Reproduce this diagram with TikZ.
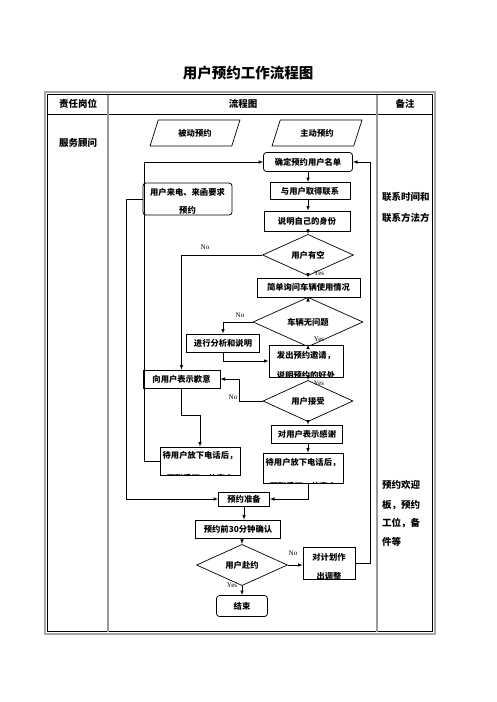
\documentclass[tikz,border=0pt]{standalone}
\usepackage{fontspec}
\newfontfamily\cjk{Noto Sans CJK SC}
\newfontfamily\latn{Liberation Serif}
\usetikzlibrary{shapes,arrows,calc}

\begin{document}
\begin{tikzpicture}[x=1pt,y=-1pt,>=latex,
  txt/.style={font=\cjk\bfseries\fontsize{8.3}{9}\selectfont,inner sep=0pt},
  box/.style={draw,fill=white,line width=.8pt,inner sep=0pt,txt},
  rbox/.style={box,rounded corners=3pt},
  dia/.style={diamond,draw,fill=white,line width=.7pt,inner sep=0pt,txt},
  io/.style={trapezium,trapezium left angle=65,trapezium right angle=115,
    trapezium stretches=true,draw,line width=.7pt,inner sep=0pt,txt},
  yn/.style={font=\latn\fontsize{7}{7}\selectfont,inner sep=0pt},
  flow/.style={->,line width=.6pt},
  head/.style={font=\cjk\bfseries\fontsize{9.5}{10}\selectfont,inner sep=0pt},
  note/.style={head,anchor=west}]
\useasboundingbox (0,0) rectangle (496,702);

% title and table
\node[font=\cjk\bfseries\fontsize{14.5}{15}\selectfont] (title) at (248,73) {用户预约工作流程图};
\draw[line width=1.8pt,gray!70] (45,92) rectangle (435,634);
\draw[line width=.6pt] (47.5,94.5) rectangle (432.5,631.5);
\draw[line width=.8pt] (47.5,114) -- (432.5,114);
\draw[line width=1.2pt,gray!80] (108,94.5) -- (108,631.5);
\draw[line width=1.2pt,gray!80] (377,94.5) -- (377,631.5);
\node[head] (h1) at (78,104) {责任岗位};
\node[head] (h2) at (243,104) {流程图};
\node[head] (h3) at (405,104) {备注};
\node[head] (role) at (78,143) {服务顾问};
\node[note] (n1) at (382,197) {联系时间和};
\node[note] (n2) at (382,218) {联系方法方};
\node[note] (n3) at (382,485) {预约欢迎};
\node[note] (n4) at (382,505) {板，预约};
\node[note] (n5) at (382,523) {工位，备};
\node[note] (n6) at (382,542) {件等};

% flow boxes
\node[io,minimum width=90,minimum height=26] (passive) at (195,133) {被动预约};
\node[io,minimum width=90,minimum height=26] (active) at (317,133) {主动预约};
\node[rbox,minimum width=89,minimum height=19] (list) at (308,162) {确定预约用户名单};
\node[rbox,minimum width=89,minimum height=32] (call) at (187.5,199) {};
\node[box,minimum width=80,minimum height=17] (contact) at (310,191) {与用户取得联系};
\node[box,minimum width=86,minimum height=20] (ident) at (307,221) {说明自己的身份};
\node[dia,minimum width=91,minimum height=29] (free) at (308,255) {用户有空};
\node[box,minimum width=103,minimum height=19] (ask) at (308.5,287.5) {简单询问车辆使用情况};
\node[dia,minimum width=110,minimum height=31] (ok) at (308,322) {车辆无问题};
\node[box,minimum width=73,minimum height=18] (expl) at (223,343) {进行分析和说明};
\node[box,minimum width=74,minimum height=32] (invite) at (306,361) {};
\node[box,minimum width=77,minimum height=18] (apology) at (181.5,379) {向用户表示歉意};
\node[dia,minimum width=90,minimum height=28] (accept) at (308,401) {用户接受};
\node[box,minimum width=71,minimum height=18] (thanks) at (307,434) {对用户表示感谢};
\node[box,minimum width=80,minimum height=28] (waitL) at (200,461) {};
\node[box,minimum width=80,minimum height=30] (waitR) at (303,468) {};
\node[box,minimum width=51,minimum height=14] (prep) at (244,499) {预约准备};
\node[box,minimum width=85,minimum height=18] (confirm) at (238,529) {预约前30分钟确认};
\node[dia,minimum width=91,minimum height=30] (show) at (242,565) {用户赴约};
\node[box,minimum width=52,minimum height=32] (adjust) at (329,563) {};
\node[rbox,minimum width=51,minimum height=21] (end) at (242,606) {结束};

% two-line texts, cut by their boxes
\begin{scope}
\clip (call.south west) rectangle (call.north east);
\node[txt] (callA) at (187.5,192) {用户来电、来函要求};
\node[txt] (callB) at (187.5,210) {预约};
\end{scope}
\begin{scope}
\clip (invite.south west) rectangle (invite.north east);
\node[txt] (invA) at (306,356) {发出预约邀请，};
\node[txt] (invB) at (306,375) {说明预约的好处};
\end{scope}
\begin{scope}
\clip (waitL.south west) rectangle (waitL.north east);
\node[txt] (waitLA) at (200,456) {待用户放下电话后，};
\node[txt] (waitLB) at (200,478) {再联系下一位客户};
\end{scope}
\begin{scope}
\clip (waitR.south west) rectangle (waitR.north east);
\node[txt] (waitRA) at (303,463) {待用户放下电话后，};
\node[txt] (waitRB) at (303,486) {再联系下一位客户};
\end{scope}
\begin{scope}
\clip (adjust.south west) rectangle (adjust.north east);
\node[txt] (adjA) at (329,557) {对计划作};
\node[txt] (adjB) at (329,576) {出调整};
\end{scope}

% connectors
\draw[flow] (list.south) -- (list.south |- contact.north);
\draw[flow] (contact.south -| list.south) -- (ident.north -| list.south);
\draw[flow] (ident.south -| free.north) -- (free.north);
\draw[flow] (free.south) -- (ask.north -| free.south);
\draw[flow] (ask.south -| ok.north) -- (ok.north);
\draw[flow] (ok.south) -- (ok.south |- invite.north);
\draw[flow] (ok.west) -| (expl.north);
\draw[flow] (expl.south) |- (invite.west);
\draw[flow] (invite.south -| accept.north) -- (accept.north);
\draw[flow] (accept.west) -- ++(-23,0) |- (apology.east);
\draw[flow] (free.west) -| (apology.north);
\draw[flow] (apology.south) -- ++(0,27) -| (waitL.north);
\draw[flow] (accept.south) -- (accept.south |- thanks.north);
\draw[flow] (thanks.south -| accept.south) -- (waitR.north -| accept.south);
\draw[flow] (waitR.south -| accept.south) |- (prep.east);
\draw[flow] (waitL.west) -- ++(-15,0) |- (list.west);
\draw[flow] (call.west) -- ++(-16,0) |- (prep.west);
\draw[flow] (prep.south) -- (prep.south |- confirm.north);
\draw[flow] (confirm.south -| show.north) -- (show.north);
\draw[flow] (show.east) -- (show.east -| adjust.west);
\draw[flow] (show.south) -- (end.north);
\draw[flow] (adjust.east) -- ++(15,0) |- (list.east);

% yes / no
\node[yn] (no1) at (205,247) {No};
\node[yn] (yes1) at (319,273) {Yes};
\node[yn] (no2) at (240,315) {No};
\node[yn] (yes2) at (319,339) {Yes};
\node[yn] (yes3) at (319,383) {Yes};
\node[yn] (no3) at (233,397) {No};
\node[yn] (no4) at (293,553) {No};
\node[yn] (yes4) at (232,585) {Yes};
\end{tikzpicture}
\end{document}
